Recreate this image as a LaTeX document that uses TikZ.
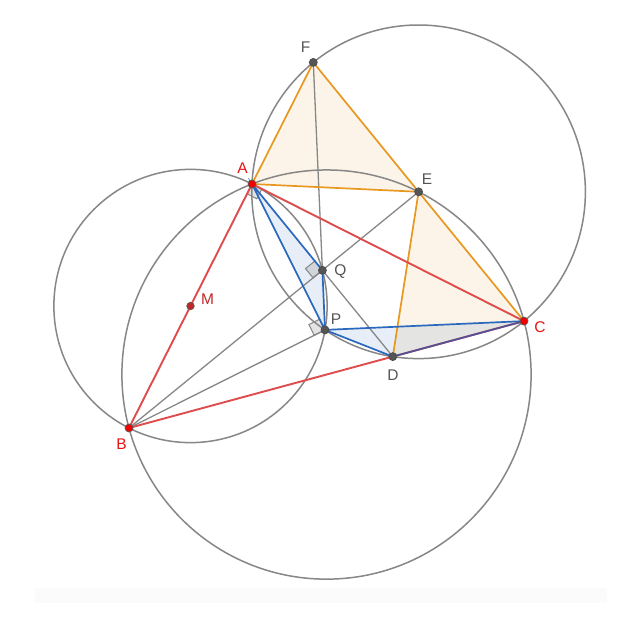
\documentclass[tikz,border=0pt]{standalone}
\usepackage{fontspec}
\setmainfont{Liberation Sans}
\usetikzlibrary{calc}
\definecolor{cgrey}{RGB}{135,135,135}
\definecolor{cred}{RGB}{222,76,76}
\definecolor{corange}{RGB}{232,152,32}
\definecolor{cblue}{RGB}{42,104,190}
\definecolor{cdblue}{RGB}{78,82,150}
\definecolor{ptred}{RGB}{245,0,0}
\definecolor{ptgrey}{RGB}{85,85,85}
\definecolor{lblgrey}{RGB}{85,85,85}
\definecolor{lblred}{RGB}{232,20,20}
\definecolor{mred}{RGB}{190,40,40}
\begin{document}
\begin{tikzpicture}[x=1pt,y=-1pt,
  circ/.style={draw=cgrey,line width=1.5pt},
  gline/.style={draw=cgrey,line width=1.3pt},
  rline/.style={draw=cred,line width=1.9pt},
  oline/.style={draw=corange,line width=1.7pt},
  bline/.style={draw=cblue,line width=1.7pt},
  ofill/.style={fill=corange,fill opacity=0.10},
  bfill/.style={fill=cblue,fill opacity=0.11},
  ramark/.style={fill=gray,fill opacity=0.22,draw=cgrey,line width=1pt},
  dotr/.style={circle,fill=ptred,draw=black!65,line width=0.7pt,inner sep=0pt,minimum size=8pt},
  dotg/.style={circle,fill=ptgrey,draw=black!70,line width=0.7pt,inner sep=0pt,minimum size=8pt},
  dotm/.style={circle,fill=mred,draw=black!65,line width=0.7pt,inner sep=0pt,minimum size=7.5pt},
  lbl/.style={font=\fontsize{15.5}{15.5}\selectfont,text=lblgrey,inner sep=0pt},
  lblr/.style={lbl,text=lblred},
  lblm/.style={lbl,text=mred}]
\useasboundingbox (0,0) rectangle (633,626);
\fill[white] (0,0) rectangle (633,626);
\fill[gray!3] (35,588) rectangle (607,603);
% points
\coordinate (A) at (252,184);
\coordinate (B) at (129,428);
\coordinate (C) at (524,321.1);
\coordinate (O) at (326.5,374.55);
\coordinate (E) at (418.6,191.8);
\coordinate (D) at (392.8,356.6);
\coordinate (Q) at (322.4,270.3);
\coordinate (M) at (190.5,306);
\coordinate (P) at (325.0,329.9);
\coordinate (F) at (313.3,62.4);
% fills
\fill[ofill] (A) -- (F) -- (E) -- cycle;
\fill[ofill] (E) -- (D) -- (C) -- cycle;
\fill[bfill] (A) -- (Q) -- (P) -- cycle;
\fill[bfill] (P) -- (D) -- (C) -- cycle;
% right angle marks
\coordinate (qa) at ($(Q)!12pt!(A)$);
\coordinate (qb) at ($(Q)!12pt!(B)$);
\coordinate (qc) at ($(qa)+(qb)-(Q)$);
\coordinate (pa) at ($(P)!12pt!(A)$);
\coordinate (pb) at ($(P)!12pt!(B)$);
\coordinate (pc) at ($(pa)+(pb)-(P)$);
\coordinate (ab) at ($(A)!11pt!(B)$);
\coordinate (ac) at ($(A)!11pt!(C)$);
\coordinate (ad) at ($(ab)+(ac)-(A)$);
\draw[ramark] (Q) -- (qa) -- (qc) -- (qb) -- cycle;
\draw[ramark] (P) -- (pa) -- (pc) -- (pb) -- cycle;
\draw[ramark] (A) -- (ab) -- (ad) -- (ac) -- cycle;
% circles
\draw[circ] (M) circle[radius=136.62];
\draw[circ] (O) circle[radius=204.6];
\draw[circ] (E) circle[radius=166.8];
% grey lines
\draw[gline] (B) -- (E);
\draw[gline] (B) -- (P);
\draw[gline] (F) -- (Q);
\draw[gline] (Q) -- (D);
% orange lines
\draw[oline] (A) -- (F) -- (E) -- cycle;
\draw[oline] (E) -- (D);
\draw[oline] (E) -- (C);
% red lines
\draw[rline] (A) -- (B);
\draw[rline] (A) -- (C);
\draw[rline] (B) -- (C);
% blue lines
\draw[bline] (A) -- (Q) -- (P) -- cycle;
\draw[bline] (P) -- (C);
\draw[bline] (P) -- (D);
\draw[draw=cdblue,line width=1.7pt] (D) -- (C);
% dots
\node[dotr] (nA) at (A) {};
\node[dotr] (nB) at (B) {};
\node[dotr] (nC) at (C) {};
\node[dotm] (nM) at (M) {};
\node[dotg] (nD) at (D) {};
\node[dotg] (nE) at (E) {};
\node[dotg] (nF) at (F) {};
\node[dotg] (nP) at (P) {};
\node[dotg] (nQ) at (Q) {};
% labels
\node[lblr] (lA) at (242.5,168) {A};
\node[lblr] (lB) at (121.5,444.5) {B};
\node[lblr] (lC) at (540,327) {C};
\node[lblm] (lM) at (207.5,299.5) {M};
\node[lbl] (lD) at (393,375) {D};
\node[lbl] (lE) at (427,179) {E};
\node[lbl] (lF) at (305.5,47) {F};
\node[lbl] (lP) at (336,319) {P};
\node[lbl] (lQ) at (340.5,272) {Q};
\end{tikzpicture}
\end{document}
